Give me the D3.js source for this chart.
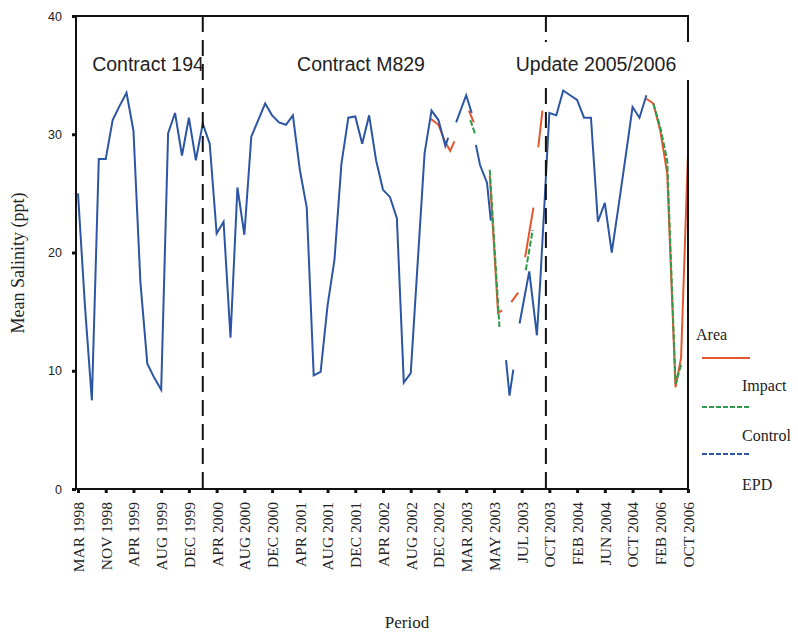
<!DOCTYPE html>
<html><head><meta charset="utf-8">
<script src="https://cdn.jsdelivr.net/npm/d3@7"></script>
<style>body{margin:0;background:#fff}svg{display:block}</style>
</head><body><svg id="c" width="798" height="635"></svg>
<script>
// x tick labels (every 4th sample)
const tickLabels = ["MAR 1998","NOV 1998","APR 1999","AUG 1999","DEC 1999","APR 2000","AUG 2000","DEC 2000","APR 2001","AUG 2001","DEC 2001","APR 2002","AUG 2002","DEC 2002","MAR 2003","MAY 2003","JUL 2003","OCT 2003","FEB 2004","JUN 2004","OCT 2004","FEB 2006","OCT 2006"];
const yTicks = [0,10,20,30,40];
// [sample index, mean salinity]; null = gap
const epd = [[0,25.0],[1,15.5],[2,7.5],[3,27.9],[4,27.9],[5,31.2],[6,32.4],[7,33.5],[8,30.3],[9,17.5],[10,10.6],[11,9.4],[12,8.4],[13,30.1],[14,31.8],[15,28.2],[16,31.4],[17,27.8],[18,30.9],[19,29.2],[20,21.6],[21,22.6],[22,12.8],[23,25.5],[24,21.5],[25,29.8],[26,31.2],[27,32.6],[28,31.6],[29,31.0],[30,30.8],[31,31.6],[32,27.0],[33,23.8],[34,9.6],[35,9.9],[36,15.5],[37,19.4],[38,27.5],[39,31.4],[40,31.5],[41,29.2],[42,31.6],[43,27.8],[44,25.3],[45,24.7],[46,22.9],[47,9.0],[48,9.8],[49,19.1],[50,28.4],[51,32.0],[52,31.2],[53,29.0],[53.4,29.7],null,[54.55,31.0],[56,33.3],[56.8,31.8],null,[57.4,29.1],[58,27.4],[59,25.9],[59.55,22.7],null,[61.75,10.9],[62.25,7.9],[62.8,10.1],null,[63.7,14.0],[65.1,18.4],[66.2,13.0],[66.7,17.7],[68,31.8],[69,31.6],[70,33.7],[71,33.3],[72,32.9],[73,31.4],[74,31.4],[75,22.6],[76,24.2],[77,20.0],[78,24.0],[79,28.1],[80,32.3],[81,31.4],[82,33.3]];
const impact = [[50.9,31.3],[52,30.8],[53,29.3],[53.7,28.6],[54.3,29.4],null,[56.4,32.0],[57.1,31.0],null,[59.4,26.5],[60.6,14.9],[61.2,15.1],null,[62.5,15.8],[63.5,16.6],null,[64.5,19.6],[65.7,23.8],null,[66.4,28.9],[67.0,32.0],null,[82,33.0],[83,32.6],[84,30.3],[85,26.7],[86.2,8.6],[87,11.1],[88,28.4]];
const control = [[56.6,31.2],[57.3,30.0],null,[59.4,27.0],[60.8,13.7],null,[64.6,18.5],[65.6,21.9],null,[83,32.6],[84,30.6],[85,27.8],[86.2,8.9],[87,10.5]];
const periods = [
  {name:"Contract 194", from:0, to:18},
  {name:"Contract M829", from:18, to:67.5},
  {name:"Update 2005/2006", from:67.5, to:88}
];
const legendItems = [{name:"Impact",color:"#e4572e",dash:null},{name:"Control",color:"#2f9a4c",dash:"5,2"},{name:"EPD",color:"#2c56a3",dash:"5,2"}];

const svg = d3.select("#c");
const L=76, R=688, T=16, B=489;
const x = d3.scaleLinear().domain([0,88]).range([78,688]);
const y = d3.scaleLinear().domain([0,40]).range([B,T]);
const serif = "'Liberation Serif','Times New Roman',serif";
const sans = "'Liberation Sans',Arial,sans-serif";

// lines
const line = d3.line().defined(d=>d!==null).x(d=>x(d[0])).y(d=>y(d[1]));
const g = svg.append("g");
g.append("path").datum(impact).attr("d",line).attr("fill","none").attr("stroke","#e4572e").attr("stroke-width",2);
g.append("path").datum(control).attr("d",line).attr("fill","none").attr("stroke","#2f9a4c").attr("stroke-width",2).attr("stroke-dasharray","6,2");
g.append("path").datum(epd).attr("d",line).attr("fill","none").attr("stroke","#2c56a3").attr("stroke-width",2);

// dividers
[18,67.5].forEach(t=>{
  svg.append("line").attr("x1",x(t)).attr("x2",x(t)).attr("y1",T).attr("y2",B)
    .attr("stroke","#111").attr("stroke-width",2).attr("stroke-dasharray","16,8");
});

// frame
svg.append("path").attr("d",`M${L},${B}V${T}H${R}V${B}H${L}`).attr("fill","none").attr("stroke","#111").attr("stroke-width",2);

// period labels
const centers = [148, 361, 596];
periods.forEach((p,i)=>{
  if(i===2){
    svg.append("rect").attr("x",506).attr("y",42).attr("width",188).attr("height",38).attr("fill","#fff");
  }
  svg.append("text").attr("x",centers[i]).attr("y",71).attr("text-anchor","middle")
    .attr("font-family",sans).attr("font-size",19.5).attr("fill","#222").text(p.name);
});

// y axis
const ya = svg.append("g").attr("transform",`translate(${L},0)`)
  .call(d3.axisLeft(y).tickValues(yTicks).tickSize(4).tickPadding(10));
ya.select(".domain").remove();
ya.selectAll(".tick line").attr("stroke","#111").attr("stroke-width",3);
ya.selectAll(".tick text").attr("font-family",sans).attr("font-size",12.5).attr("fill","#222");

// x axis
const xa = svg.append("g").attr("transform",`translate(0,${B})`)
  .call(d3.axisBottom(x).tickValues(tickLabels.map((d,i)=>i*4)).tickFormat((d,i)=>tickLabels[i]).tickSize(4));
xa.select(".domain").remove();
xa.selectAll(".tick line").attr("stroke","#111").attr("stroke-width",3);
xa.selectAll(".tick text").attr("transform","rotate(-90)").attr("x",-13).attr("y",0).attr("dy","0.35em")
  .style("text-anchor","end").attr("font-family",serif).attr("font-size",15.5).attr("fill","#222");

// axis titles
svg.append("text").attr("transform","translate(24,263) rotate(-90)").attr("text-anchor","middle")
  .attr("font-family",serif).attr("font-size",18).attr("fill","#222").text("Mean Salinity (ppt)");
svg.append("text").attr("x",407).attr("y",628).attr("text-anchor","middle")
  .attr("font-family",serif).attr("font-size",17).attr("fill","#222").text("Period");

// legend
svg.append("text").attr("x",696).attr("y",340).attr("font-family",serif).attr("font-size",16).attr("fill","#222").text("Area");
const ly = [358,407,454], ty = [391,441,490];
legendItems.forEach((d,i)=>{
  svg.append("line").attr("x1",702).attr("x2",750).attr("y1",ly[i]).attr("y2",ly[i])
    .attr("stroke",d.color).attr("stroke-width",2).attr("stroke-dasharray",d.dash);
  svg.append("text").attr("x",742).attr("y",ty[i]).attr("font-family",serif).attr("font-size",16).attr("fill","#222").text(d.name);
});
</script></body></html>
